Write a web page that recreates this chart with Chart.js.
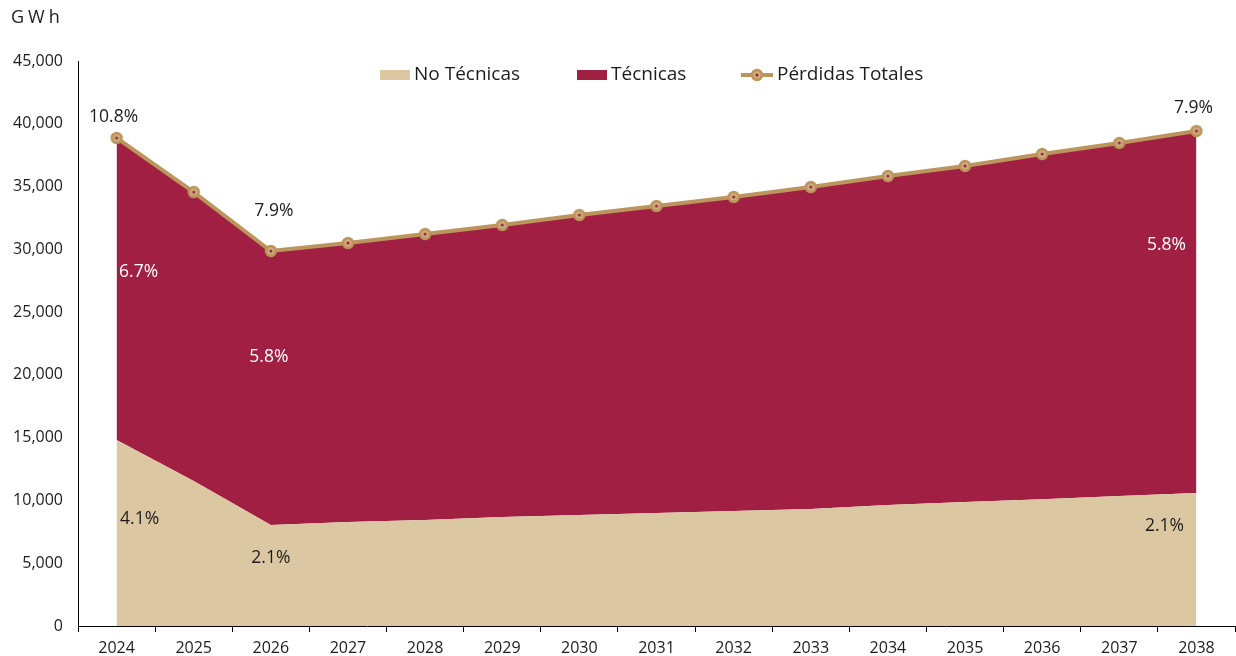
<!DOCTYPE html>
<html>
<head>
<meta charset="utf-8">
<script src="https://cdn.jsdelivr.net/npm/chart.js@4/dist/chart.umd.min.js"></script>
<style>
  html, body { margin: 0; padding: 0; background: #ffffff; overflow: hidden; }
  #wrap { width: 1236px; height: 656px; position: relative; }
  canvas { display: block; }
</style>
</head>
<body>
<div id="wrap"><canvas id="c" width="1236" height="656"></canvas></div>
<script>
// Pérdidas de energía (GWh), 2024–2038
const years = ['2024','2025','2026','2027','2028','2029','2030','2031','2032','2033','2034','2035','2036','2037','2038'];
const noTecnicas = [14810, 11550, 8040, 8280, 8440, 8680, 8840, 9000, 9160, 9320, 9640, 9880, 10100, 10350, 10600];
const tecnicas   = [24060, 23010, 21830, 22220, 22780, 23260, 23890, 24450, 25010, 25640, 26200, 26760, 27490, 28120, 28820];
const perdidasTotales = [38870, 34560, 29870, 30500, 31220, 31940, 32730, 33450, 34170, 34960, 35840, 36640, 37590, 38470, 39420];

// Percentage annotations (share of energy) per series
const pctTotal = ['10.8%', '7.9%', '7.9%'];
const pctTecnicas = ['6.7%', '5.8%', '5.8%'];
const pctNoTecnicas = ['4.1%', '2.1%', '2.1%'];

const yTicks = [0, 5000, 10000, 15000, 20000, 25000, 30000, 35000, 40000, 45000];

const C_BEIGE = '#DBC8A3';
const C_MAROON = '#A01F42';
const C_GOLD = '#BC955C';
const FONT = "'Open Sans', 'Noto Sans', sans-serif";
const TXT = '#1c1c1c';

// marker: gold disc, lighter core, maroon centre dot
function makeMarker() {
  const s = 16, cv = document.createElement('canvas');
  cv.width = s; cv.height = s;
  const g = cv.getContext('2d');
  g.fillStyle = C_GOLD; g.beginPath(); g.arc(s/2, s/2, 6.2, 0, Math.PI*2); g.fill();
  g.fillStyle = '#CDB07E'; g.beginPath(); g.arc(s/2, s/2, 3.6, 0, Math.PI*2); g.fill();
  g.fillStyle = C_MAROON; g.beginPath(); g.arc(s/2, s/2, 1.5, 0, Math.PI*2); g.fill();
  return cv;
}
const marker = makeMarker();

// placement of annotation texts: [category index, y position in GWh, x shift px, colour]
const annotations = [
  { text: pctTotal[0], i: 0,  v: 40540, dx: -3,  color: TXT },
  { text: pctTotal[1], i: 2,  v: 33050, dx: 3,   color: TXT },
  { text: pctTotal[2], i: 14, v: 41250, dx: -3,  color: TXT },
  { text: pctTecnicas[0], i: 0,  v: 28190, dx: 22,  color: '#ffffff' },
  { text: pctTecnicas[1], i: 2,  v: 21420, dx: -2,  color: '#ffffff' },
  { text: pctTecnicas[2], i: 14, v: 30340, dx: -30, color: '#ffffff' },
  { text: pctNoTecnicas[0], i: 0,  v: 8520, dx: 23,  color: TXT },
  { text: pctNoTecnicas[1], i: 2,  v: 5420, dx: 0,   color: TXT },
  { text: pctNoTecnicas[2], i: 14, v: 7960, dx: -32, color: TXT }
];

const decorations = {
  id: 'decorations',
  afterDraw(chart) {
    const ctx = chart.ctx, xs = chart.scales.x, ys = chart.scales.y;
    ctx.save();
    // unit label
    ctx.fillStyle = TXT;
    ctx.font = '18px ' + FONT;
    ctx.textBaseline = 'middle';
    ctx.textAlign = 'left';
    if ('letterSpacing' in ctx) ctx.letterSpacing = '4px';
    ctx.fillText('GWh', 11, 18);
    if ('letterSpacing' in ctx) ctx.letterSpacing = '0px';

    // legend
    ctx.font = '19px ' + FONT;
    const ly = 75;
    ctx.fillStyle = C_BEIGE; ctx.fillRect(380, ly - 5, 30, 10);
    ctx.fillStyle = TXT; ctx.fillText(chart.data.datasets[0].label, 414, ly);
    ctx.fillStyle = C_MAROON; ctx.fillRect(577, ly - 5, 30, 10);
    ctx.fillStyle = TXT; ctx.fillText(chart.data.datasets[1].label, 611, ly);
    ctx.strokeStyle = C_GOLD; ctx.lineWidth = 4;
    ctx.beginPath(); ctx.moveTo(741, ly); ctx.lineTo(773, ly); ctx.stroke();
    ctx.drawImage(marker, 757 - 8, ly - 8);
    ctx.fillStyle = TXT; ctx.fillText(chart.data.datasets[2].label, 777, ly);

    // percentage annotations
    ctx.font = '17.5px ' + FONT;
    ctx.textAlign = 'center';
    annotations.forEach(a => {
      ctx.fillStyle = a.color;
      ctx.fillText(a.text, xs.getPixelForValue(a.i) + a.dx, ys.getPixelForValue(a.v));
    });
    ctx.restore();
  }
};

new Chart(document.getElementById('c'), {
  type: 'line',
  data: {
    labels: years,
    datasets: [
      {
        label: 'No Técnicas',
        data: noTecnicas,
        stack: 'componentes',
        backgroundColor: C_BEIGE,
        borderWidth: 0,
        pointRadius: 0,
        fill: 'origin',
        order: 1,
        tension: 0
      },
      {
        label: 'Técnicas',
        data: tecnicas,
        stack: 'componentes',
        backgroundColor: C_MAROON,
        borderWidth: 0,
        pointRadius: 0,
        fill: '-1',
        order: 1,
        tension: 0
      },
      {
        label: 'Pérdidas Totales',
        data: perdidasTotales,
        stack: 'total',
        borderColor: C_GOLD,
        borderWidth: 4,
        pointStyle: marker,
        pointRadius: 7,
        fill: false,
        order: 0,
        tension: 0,
        clip: false
      }
    ]
  },
  options: {
    responsive: false,
    animation: false,
    events: [],
    layout: { autoPadding: false, padding: { top: 61, right: 1, left: 0, bottom: 0 } },
    plugins: {
      legend: { display: false },
      title: { display: false },
      tooltip: { enabled: false }
    },
    scales: {
      x: {
        offset: true,
        grid: { display: true, drawOnChartArea: false, drawTicks: true, tickLength: 6, color: '#000', offset: true },
        border: { display: true, color: '#000', width: 1 },
        ticks: { color: TXT, font: { family: FONT, size: 16 }, padding: 7, maxRotation: 0, autoSkip: false },
        afterFit(s) { s.height = 30; s.paddingLeft = 0; s.paddingRight = 0; }
      },
      y: {
        stacked: true,
        min: 0,
        max: 45000,
        afterBuildTicks(s) { s.ticks = yTicks.map(v => ({ value: v })); },
        grid: { display: false, drawTicks: false },
        border: { display: true, color: '#000', width: 1 },
        ticks: {
          color: TXT,
          font: { family: FONT, size: 16 },
          padding: 15,
          callback: v => v.toLocaleString('en-US')
        },
        afterFit(s) { s.width = 78; }
      }
    }
  },
  plugins: [decorations]
});
</script>
</body>
</html>
